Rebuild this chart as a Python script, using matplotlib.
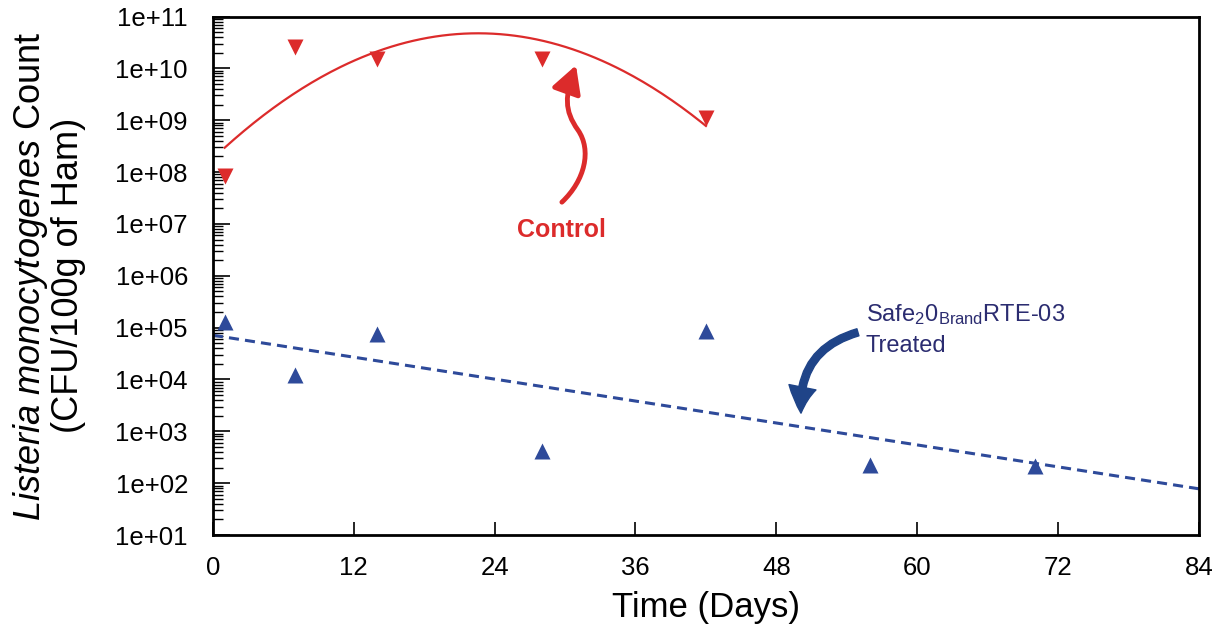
import matplotlib
matplotlib.use('Agg')
import matplotlib.pyplot as plt
import numpy as np
from matplotlib.path import Path
from matplotlib.patches import FancyArrowPatch
from matplotlib.ticker import LogLocator, FuncFormatter

plt.rcParams['font.family'] = ['Liberation Sans', 'DejaVu Sans']
plt.rcParams['mathtext.fontset'] = 'custom'
plt.rcParams['mathtext.rm'] = 'Liberation Sans'
plt.rcParams['mathtext.it'] = 'Liberation Sans:italic'

# data
days_control = [1, 7, 14, 28, 42]
control_cfu = [8.5e7, 2.6e10, 1.55e10, 1.5e10, 1.1e9]
days_treated = [1, 7, 14, 28, 42, 56, 70]
treated_cfu = [1.3e5, 1.2e4, 7.5e4, 4.2e2, 8.5e4, 2.2e2, 2.1e2]
x_ticks = [0, 12, 24, 36, 48, 60, 72, 84]

RED = '#dc2b2b'
BLUE = '#2e4a9a'
NAVY = '#2b2c70'

fig = plt.figure(figsize=(12.19, 6.38), dpi=100)
ax = fig.add_axes([0.1747, 0.1614, 0.8088, 0.8127])

# trend lines: quadratic (control) and linear (treated) fits in log space
pc = np.polyfit(days_control, np.log10(control_cfu), 2)
xc = np.linspace(days_control[0], days_control[-1], 200)
ax.plot(xc, 10 ** np.polyval(pc, xc), color=RED, lw=1.6)

pt = np.polyfit(days_treated, np.log10(treated_cfu), 1)
xt = np.array([0, 84])
ax.plot(xt, 10 ** np.polyval(pt, xt), color=BLUE, lw=2.2, dashes=(3.3, 2.0))

ax.plot(days_control, control_cfu, 'v', color=RED, ms=11, mec='none')
ax.plot(days_treated, treated_cfu, '^', color=BLUE, ms=11, mec='none')

ax.set_yscale('log')
ax.set_ylim(1e1, 1e11)
ax.set_xlim(0, 84)
ax.set_xticks(x_ticks)
ax.yaxis.set_major_locator(LogLocator(base=10, numticks=20))
ax.yaxis.set_minor_locator(LogLocator(base=10, subs=np.arange(2, 10), numticks=20))
ax.yaxis.set_major_formatter(FuncFormatter(lambda v, p: '1e+%02d' % int(round(np.log10(v)))))
ax.tick_params(axis='y', which='major', direction='in', length=12, width=1.2, labelsize=18.5, pad=18)
ax.tick_params(axis='y', which='minor', direction='in', length=7, width=1.0)
ax.tick_params(axis='x', which='major', direction='in', length=9.5, width=1.2, labelsize=18.5, pad=15)
ax.tick_params(top=False, right=False)
for s in ax.spines.values():
    s.set_linewidth(2)

ax.set_xlabel('Time (Days)', fontsize=25, labelpad=8)
ax.set_ylabel(r'$\mathit{Listeria\ monocytogenes}$ Count' + '\n(CFU/100g of Ham)',
              fontsize=26, labelpad=21, linespacing=1.05)

# annotations
ax.text(29.65, 7.6e6, 'Control', color=RED, fontsize=18, fontweight='bold',
        ha='center', va='center')
arrow_path = Path([(29.73, 10 ** 7.42), (31.69, 10 ** 7.84), (32.29, 10 ** 8.42), (31.10, 10 ** 8.81),
                   (29.90, 10 ** 9.19), (30.0, 10 ** 9.48), (30.93, 10 ** 10.06)],
                  [Path.MOVETO, Path.CURVE4, Path.CURVE4, Path.CURVE4,
                   Path.CURVE4, Path.CURVE4, Path.CURVE4])
ax.add_patch(FancyArrowPatch(path=arrow_path, arrowstyle='-|>,head_length=1.1,head_width=0.6',
                             mutation_scale=15, color=RED, lw=3.5))

ax.text(55.6, 3.1e5, r'Safe$_{\mathrm{2}}$0$_{\mathrm{Brand}}$RTE-03' + '\nTreated', color=NAVY,
        fontsize=17, ha='left', va='top', linespacing=1.45)
ax.annotate('', xy=(50.1, 10 ** 3.35), xytext=(54.95, 10 ** 4.91),
            arrowprops=dict(arrowstyle='simple,head_length=0.85,head_width=0.9,tail_width=0.24',
                            mutation_scale=22, color='#1f4488',
                            connectionstyle='arc3,rad=0.4', shrinkA=0, shrinkB=0))

fig.savefig('out.png', dpi=100)
